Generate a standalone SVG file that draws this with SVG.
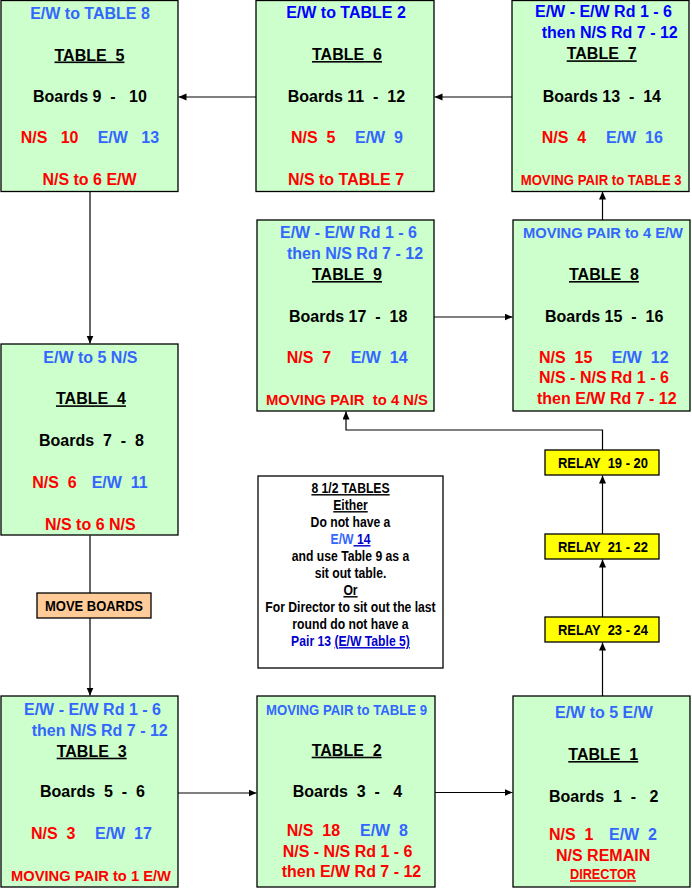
<svg xmlns="http://www.w3.org/2000/svg" width="692" height="889" viewBox="0 0 692 889">
<defs>
<style>
.box{fill:#CCFFCC;stroke:#000;stroke-width:1.3}
.relay{fill:#FFFF00;stroke:#000;stroke-width:1.3}
.mb{fill:#FFCC99;stroke:#000;stroke-width:1.3}
.note{fill:#FFFFFF;stroke:#000;stroke-width:1.3}
text{font-family:"Liberation Sans",Arial,sans-serif;font-weight:bold;font-size:16px;fill:#000}
.r{fill:#FF0000}
.b{fill:#3366FF}
.db{fill:#0000FF}
.nv{fill:#0000CC}
.u{text-decoration:underline}
.c{text-anchor:middle}
.s14{font-size:14px}
.n{font-size:14.5px}
.con{stroke:#000;stroke-width:1.2;fill:none}
</style>
<marker id="ah" markerUnits="userSpaceOnUse" markerWidth="9" markerHeight="8" refX="8" refY="3.5" orient="auto">
<path d="M0,0 L8,3.5 L0,7 z" fill="#000"/>
</marker>
</defs>
<rect width="692" height="889" fill="#FFFFFF"/>

<g id="connectors">
<line class="con" x1="512" y1="97" x2="434.5" y2="97" marker-end="url(#ah)"/>
<line class="con" x1="256" y1="97" x2="178.5" y2="97" marker-end="url(#ah)"/>
<line class="con" x1="90" y1="191.5" x2="90" y2="343.5" marker-end="url(#ah)"/>
<line class="con" x1="90" y1="535.5" x2="90" y2="593"/>
<line class="con" x1="90" y1="618" x2="90" y2="695.5" marker-end="url(#ah)"/>
<line class="con" x1="178" y1="793" x2="256.5" y2="793" marker-end="url(#ah)"/>
<line class="con" x1="435" y1="792.5" x2="512.5" y2="792.5" marker-end="url(#ah)"/>
<line class="con" x1="602.5" y1="696" x2="602.5" y2="642.5" marker-end="url(#ah)"/>
<line class="con" x1="602.5" y1="617" x2="602.5" y2="559.5" marker-end="url(#ah)"/>
<line class="con" x1="602.5" y1="534" x2="602.5" y2="475.5" marker-end="url(#ah)"/>
<polyline class="con" points="602.5,450 602.5,430 346,430 346,411.5" marker-end="url(#ah)"/>
<line class="con" x1="434" y1="317" x2="512.5" y2="317" marker-end="url(#ah)"/>
<line class="con" x1="602.5" y1="220" x2="602.5" y2="191.5" marker-end="url(#ah)"/>
</g>

<g id="table5">
<rect class="box" x="1" y="0.5" width="177" height="191"/>
<text class="b c" x="90" y="18.5">E/W to TABLE 8</text>
<text class="u c" x="89.5" y="60.5">TABLE&#160; 5</text>
<text x="33" y="101.7">Boards 9 &#160;- &#160;&#160;10</text>
<text class="r" x="20.7" y="142.7">N/S &#160;&#160;10</text>
<text class="b" x="97.7" y="142.7">E/W &#160;&#160;13</text>
<text class="r c" x="89.5" y="185">N/S to 6 E/W</text>
</g>

<g id="table6">
<rect class="box" x="256" y="0.5" width="178" height="191"/>
<text class="db c" x="346" y="18.3">E/W to TABLE 2</text>
<text class="u c" x="347" y="60">TABLE&#160; 6</text>
<text x="287.7" y="101.7">Boards 11 &#160;- &#160;12</text>
<text class="r" x="291" y="142.7">N/S &#160;5</text>
<text class="b" x="355" y="142.7">E/W &#160;9</text>
<text class="r c" x="346" y="185">N/S to TABLE 7</text>
</g>

<g id="table7">
<rect class="box" x="512" y="0.5" width="177" height="191"/>
<text class="db" x="535" y="17.3">E/W - E/W Rd 1 - 6</text>
<text class="db" x="541.7" y="38.3">then N/S Rd 7 - 12</text>
<text class="u" x="566.7" y="59.3">TABLE&#160; 7</text>
<text x="542.7" y="101.7">Boards 13 &#160;- &#160;14</text>
<text class="r" x="541.7" y="142.7">N/S &#160;4</text>
<text class="b" x="606" y="142.7">E/W &#160;16</text>
<text class="r s14" x="520.7" y="185" textLength="161" lengthAdjust="spacingAndGlyphs">MOVING PAIR to TABLE 3</text>
</g>

<g id="table9">
<rect class="box" x="257" y="220" width="177" height="191"/>
<text class="b" x="280" y="238.3">E/W - E/W Rd 1 - 6</text>
<text class="b" x="287" y="259.3">then N/S Rd 7 - 12</text>
<text class="u" x="312" y="280">TABLE&#160; 9</text>
<text x="289" y="322.3">Boards 17 &#160;- &#160;18</text>
<text class="r" x="286.7" y="363.3">N/S &#160;7</text>
<text class="b" x="350.7" y="363.3">E/W &#160;14</text>
<text class="r s14" x="266" y="405" textLength="162" lengthAdjust="spacingAndGlyphs">MOVING PAIR &#160;to 4 N/S</text>
</g>

<g id="table8">
<rect class="box" x="513" y="220" width="177" height="191"/>
<text class="b s14" x="523" y="237.7" textLength="160" lengthAdjust="spacingAndGlyphs">MOVING PAIR to 4 E/W</text>
<text class="u" x="569" y="280">TABLE&#160; 8</text>
<text x="545" y="322.3">Boards 15 &#160;- &#160;16</text>
<text class="r" x="539" y="362.7">N/S &#160;15</text>
<text class="b" x="611.7" y="362.7">E/W &#160;12</text>
<text class="r" x="539" y="383.3">N/S - N/S Rd 1 - 6</text>
<text class="r" x="537" y="404.3">then E/W Rd 7 - 12</text>
</g>

<g id="table4">
<rect class="box" x="1" y="344" width="177" height="191"/>
<text class="b" x="43.3" y="362.7">E/W to 5 N/S</text>
<text class="u" x="56" y="404.3">TABLE&#160; 4</text>
<text x="39" y="446">Boards &#160;7 &#160;- &#160;8</text>
<text class="r" x="32.3" y="488.3">N/S &#160;6</text>
<text class="b" x="91.7" y="488.3">E/W &#160;11</text>
<text class="r" x="45" y="530">N/S to 6 N/S</text>
</g>

<g id="moveboards">
<rect class="mb" x="37" y="593" width="114" height="25"/>
<text class="s14" x="45" y="610.7" textLength="98" lengthAdjust="spacingAndGlyphs">MOVE BOARDS</text>
</g>

<g id="note">
<rect class="note" x="258" y="476" width="185" height="192"/>
<g transform="translate(350.5,0) scale(0.84,1)">
<text class="n c u" x="0" y="493">8 1/2 TABLES</text>
<text class="n c u" x="0" y="510">Either</text>
<text class="n c" x="0" y="527">Do not have a</text>
<text class="n c" x="0" y="544"><tspan class="b">E/W</tspan><tspan class="nv u"> 14</tspan></text>
<text class="n c" x="0" y="561">and use Table 9 as a</text>
<text class="n c" x="0" y="578">sit out table.</text>
<text class="n c u" x="0" y="595">Or</text>
<text class="n c" x="0" y="612">For Director to sit out the last</text>
<text class="n c" x="0" y="629">round do not have a</text>
<text class="n c" x="0" y="646"><tspan class="nv">Pair 13 </tspan><tspan class="nv u">(E/W Table 5)</tspan></text>
</g>
</g>

<g id="table3">
<rect class="box" x="1" y="696" width="177" height="191"/>
<text class="b" x="24" y="715">E/W - E/W Rd 1 - 6</text>
<text class="b" x="31.7" y="735.7">then N/S Rd 7 - 12</text>
<text class="u" x="56.7" y="756.7">TABLE&#160; 3</text>
<text x="40" y="797.3">Boards &#160;5 &#160;- &#160;6</text>
<text class="r" x="31" y="839.3">N/S &#160;3</text>
<text class="b" x="95" y="839.3">E/W &#160;17</text>
<text class="r s14" x="11" y="880.7" textLength="160" lengthAdjust="spacingAndGlyphs">MOVING PAIR to 1 E/W</text>
</g>

<g id="table2">
<rect class="box" x="257" y="696" width="178" height="191"/>
<text class="b s14" x="266" y="715" textLength="161" lengthAdjust="spacingAndGlyphs">MOVING PAIR to TABLE 9</text>
<text class="u" x="311.7" y="755.7">TABLE&#160; 2</text>
<text x="292.7" y="797.3">Boards &#160;3 &#160;- &#160;&#160;4</text>
<text class="r" x="286.7" y="835.7">N/S &#160;18</text>
<text class="b" x="360" y="835.7">E/W &#160;8</text>
<text class="r" x="282.7" y="856.7">N/S - N/S Rd 1 - 6</text>
<text class="r" x="281.7" y="877.3">then E/W Rd 7 - 12</text>
</g>

<g id="table1">
<rect class="box" x="513" y="696" width="177" height="191"/>
<text class="b" x="555" y="717.7">E/W to 5 E/W</text>
<text class="u" x="568.3" y="760">TABLE&#160; 1</text>
<text x="549" y="801.7">Boards &#160;1 &#160;- &#160;&#160;2</text>
<text class="r" x="549" y="840">N/S &#160;1</text>
<text class="b" x="609" y="840">E/W &#160;2</text>
<text class="r" x="556" y="860.7">N/S REMAIN</text>
<text class="r u s14" x="570" y="879.3" textLength="66" lengthAdjust="spacingAndGlyphs">DIRECTOR</text>
</g>

<g id="relay1920">
<rect class="relay" x="545" y="450" width="114" height="25"/>
<text class="s14" x="558" y="467.7" textLength="90" lengthAdjust="spacingAndGlyphs">RELAY &#160;19 - 20</text>
</g>
<g id="relay2122">
<rect class="relay" x="545" y="534" width="114" height="25"/>
<text class="s14" x="558" y="551.7" textLength="90" lengthAdjust="spacingAndGlyphs">RELAY &#160;21 - 22</text>
</g>
<g id="relay2324">
<rect class="relay" x="545" y="617" width="114" height="25"/>
<text class="s14" x="558" y="635" textLength="90" lengthAdjust="spacingAndGlyphs">RELAY &#160;23 - 24</text>
</g>
</svg>
